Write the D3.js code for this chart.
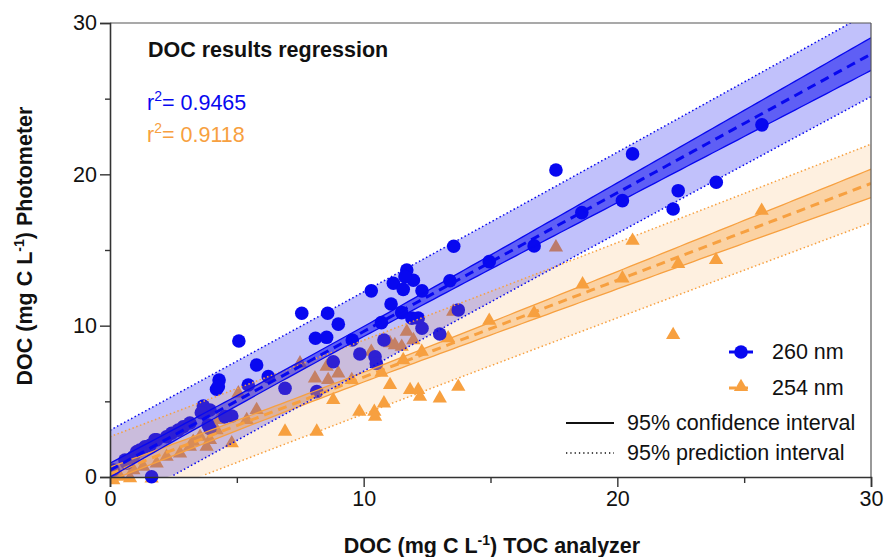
<!DOCTYPE html>
<html><head><meta charset="utf-8">
<script src="https://cdn.jsdelivr.net/npm/d3@7"></script>
<style>body{margin:0;background:#fff}svg{font-family:"Liberation Sans",Arial,sans-serif}</style>
</head><body><svg id="c" width="884" height="557"></svg>
<script>
// ---- data ----
const blue260 = [
[17.58,20.29],[20.6,21.35],[25.7,23.27],[18.6,17.47],[20.2,18.26],[22.4,18.92],[22.2,17.71],[23.9,19.48],[16.72,15.27],[14.95,14.23],
[13.55,15.25],[13.4,12.97],[13.73,11.04],[13.0,9.45],[12.3,12.3],[11.96,13.0],[11.7,13.68],[11.63,13.24],[11.17,12.8],[11.56,12.4],
[10.3,12.3],[11.08,11.43],[11.5,10.86],[11.9,10.5],[12.15,10.5],[12.3,9.83],[10.7,10.2],[10.8,9.05],[9.85,8.13],[10.45,7.95],
[10.5,7.5],[9.55,9.05],[9.0,10.1],[8.58,10.82],[7.56,10.82],[8.1,9.17],[8.54,9.23],[8.8,7.62],[6.9,5.86],[8.15,5.64],
[5.08,8.99],[5.78,7.4],[6.24,6.63],[4.3,6.41],[4.2,5.8],[5.45,6.08],[4.27,5.97],[3.68,4.69],[3.94,4.43],[4.8,4.03],
[4.53,3.99],[3.6,4.25],[2.89,3.32],[3.15,3.57],[3.87,3.44],[2.43,2.89],[2.69,3.1],[2.23,2.66],[3.94,3.2],[1.84,2.45],
[1.77,2.45],[1.38,2.0],[1.58,2.1],[1.05,1.67],[1.18,1.78],[0.92,1.34],[0.59,1.12],[0.66,0.92],[0.13,0.46],[1.64,0.02]
];
const orange254 = [
[25.69,17.6],[20.6,15.62],[23.89,14.34],[22.4,14.08],[18.63,12.73],[20.2,13.13],[16.72,10.82],[14.95,10.33],[22.2,9.39],[17.58,15.18],
[13.53,10.93],[13.33,9.17],[11.7,9.6],[11.23,8.72],[11.96,9.05],[11.04,8.84],[11.5,8.61],[12.29,8.28],[10.3,8.28],[11.56,7.73],
[10.7,6.89],[8.54,7.29],[9.0,6.85],[8.08,6.52],[8.6,6.41],[7.49,7.51],[9.53,6.41],[11.04,6.08],[11.83,5.75],[12.15,5.75],
[12.22,5.31],[13.0,5.2],[13.73,5.97],[10.8,4.87],[8.8,5.09],[9.83,4.32],[10.42,4.32],[10.45,3.99],[6.9,3.0],[8.15,3.0],
[5.06,5.53],[5.78,4.43],[5.39,3.77],[4.8,2.23],[3.94,2.45],[4.2,3.1],[3.55,2.66],[3.81,2.0],[3.15,2.0],[2.76,1.56],
[2.23,1.34],[1.84,0.9],[1.31,0.68],[0.92,0.46],[0.39,0.02],[0.13,-0.2],[0.79,-0.07],[1.64,-0.09],[4.27,3.77],[3.28,2.33]
];
// fitted regressions (slope, intercept) and interval parameters
const fit260 = {slope:0.9165, intercept:0.45, ts:2.6, n:70, xm:7.5, sxx:3200};
const fit254 = {slope:0.64, intercept:0.2, ts:2.42, n:60, xm:8.0, sxx:3600};
const r2Labels = ["0.9465","0.9118"];
const seriesNames = ["260 nm","254 nm"];
const xTicks = [0,10,20,30], yTicks = [0,10,20,30], minorTicks = [5,15,25];

const BLUE = "#0808f0", ORANGE = "#f7a040";
const svg = d3.select("#c");
const L=110, R=871, T=23, B=477;
const x = d3.scaleLinear().domain([0,30]).range([L,R]);
const y = d3.scaleLinear().domain([0,30]).range([B,T]);

svg.append("clipPath").attr("id","clip").append("rect").attr("x",L).attr("y",T).attr("width",R-L).attr("height",B-T+9);
const plot = svg.append("g").attr("clip-path","url(#clip)");

function bands(f){
  const xs = d3.range(0,30.0001,0.25);
  return xs.map(v=>{
    const c = f.intercept + f.slope*v;
    const d2 = (v-f.xm)*(v-f.xm)/f.sxx;
    const hc = f.ts*Math.sqrt(1/f.n + d2);
    const hp = f.ts*Math.sqrt(1 + 1/f.n + d2);
    return {x:v, c, cl:c-hc, cu:c+hc, pl:Math.max(0,c-hp), pu:c+hp};
  });
}
const b260 = bands(fit260), b254 = bands(fit254);
const area = (lo,hi)=>d3.area().x(d=>x(d.x)).y0(d=>y(d[lo])).y1(d=>y(d[hi]));
const line = k=>d3.line().x(d=>x(d.x)).y(d=>y(d[k]));

const tri = d3.symbol().type(d3.symbolTriangle).size(88);

// orange triangles
plot.append("g").selectAll("path").data(orange254).join("path")
  .attr("d",tri).attr("transform",d=>`translate(${x(d[0])},${y(d[1])})`).attr("fill",ORANGE);
// blue bands
plot.append("path").datum(b260).attr("d",area("pl","pu")).attr("fill",BLUE).attr("fill-opacity",0.25);
plot.append("path").datum(b260).attr("d",area("cl","cu")).attr("fill",BLUE).attr("fill-opacity",0.53);
// blue circles
plot.append("g").selectAll("circle").data(blue260).join("circle")
  .attr("cx",d=>x(d[0])).attr("cy",d=>y(d[1])).attr("r",6.8).attr("fill",BLUE);
// orange bands
plot.append("path").datum(b254).attr("d",area("pl","pu")).attr("fill",ORANGE).attr("fill-opacity",0.16);
plot.append("path").datum(b254).attr("d",area("cl","cu")).attr("fill",ORANGE).attr("fill-opacity",0.38);

function drawLines(b,col){
  ["pl","pu"].forEach(k=>plot.append("path").datum(b.filter(d=>d[k]>0)).attr("d",line(k)).attr("fill","none")
    .attr("stroke",col).attr("stroke-width",1.5).attr("stroke-dasharray","1.5,2.5"));
  ["cl","cu"].forEach(k=>plot.append("path").datum(b).attr("d",line(k)).attr("fill","none")
    .attr("stroke",col).attr("stroke-width",1.3));
  plot.append("path").datum(b).attr("d",line("c")).attr("fill","none")
    .attr("stroke",col).attr("stroke-width",3).attr("stroke-dasharray","9,6");
}
drawLines(b254,ORANGE);
drawLines(b260,BLUE);

// frame
svg.append("line").attr("x1",L).attr("x2",R).attr("y1",T).attr("y2",T).attr("stroke","#555").attr("stroke-width",1.2);
svg.append("line").attr("x1",R).attr("x2",R).attr("y1",T).attr("y2",B).attr("stroke","#555").attr("stroke-width",1.2);

// axes
const xAx = svg.append("g").attr("transform",`translate(0,${B})`)
  .call(d3.axisBottom(x).tickValues(xTicks).tickSize(10).tickPadding(4).tickFormat(d3.format("d")));
const xMin = svg.append("g").attr("transform",`translate(0,${B})`)
  .call(d3.axisBottom(x).tickValues(minorTicks).tickSize(6).tickFormat(""));
const yAx = svg.append("g").attr("transform",`translate(${L},0)`)
  .call(d3.axisLeft(y).tickValues(yTicks).tickSize(10).tickPadding(3).tickFormat(d3.format("d")));
const yMin = svg.append("g").attr("transform",`translate(${L},0)`)
  .call(d3.axisLeft(y).tickValues(minorTicks).tickSize(5).tickFormat(""));
[xAx,xMin,yAx,yMin].forEach(g=>{
  g.select(".domain").attr("stroke","#333").attr("stroke-width",1.6);
  g.selectAll(".tick line").attr("stroke","#333").attr("stroke-width",1.4);
  g.selectAll(".tick text").attr("font-size",21.5).attr("fill","#111").attr("font-family","Liberation Sans, Arial, sans-serif");
});
xMin.select(".domain").remove(); yMin.select(".domain").remove();

// axis titles
const xt = svg.append("text").attr("x",492).attr("y",553).attr("text-anchor","middle")
  .attr("font-size",21.5).attr("font-weight","bold").attr("fill","#111");
xt.append("tspan").text("DOC (mg C L");
xt.append("tspan").text("-1").attr("font-size",14).attr("dy",-8);
xt.append("tspan").text(") TOC analyzer").attr("dy",8);

const yt = svg.append("text").attr("transform","translate(32,246) rotate(-90)").attr("text-anchor","middle")
  .attr("font-size",21.5).attr("font-weight","bold").attr("fill","#111");
yt.append("tspan").text("DOC (mg C L");
yt.append("tspan").text("-1").attr("font-size",14).attr("dy",-8);
yt.append("tspan").text(") Photometer").attr("dy",8);

// title and r2
svg.append("text").attr("x",148).attr("y",57).attr("font-size",21.5).attr("font-weight","bold").attr("fill","#111")
  .text("DOC results regression");
[[BLUE,110],[ORANGE,142]].forEach(([col,yy],i)=>{
  const t = svg.append("text").attr("x",147).attr("y",yy).attr("font-size",21.5).attr("fill",col);
  t.append("tspan").text("r");
  t.append("tspan").text("2").attr("font-size",14).attr("dy",-9);
  t.append("tspan").text("= "+r2Labels[i]).attr("dy",9);
});

// legend
const lg = svg.append("g");
lg.append("line").attr("x1",729).attr("x2",753).attr("y1",352).attr("y2",352).attr("stroke",BLUE).attr("stroke-width",3);
lg.append("circle").attr("cx",741).attr("cy",352).attr("r",6.8).attr("fill",BLUE);
lg.append("text").attr("x",772).attr("y",359).attr("font-size",21.5).attr("fill","#111").text(seriesNames[0]);
lg.append("line").attr("x1",729).attr("x2",753).attr("y1",388).attr("y2",388).attr("stroke",ORANGE).attr("stroke-width",3).attr("stroke-dasharray","7,5");
lg.append("path").attr("d",d3.symbol().type(d3.symbolTriangle).size(88)).attr("transform","translate(741,387)").attr("fill",ORANGE);
lg.append("text").attr("x",772).attr("y",395).attr("font-size",21.5).attr("fill","#111").text(seriesNames[1]);
lg.append("line").attr("x1",566).attr("x2",614).attr("y1",423).attr("y2",423).attr("stroke","#111").attr("stroke-width",1.8);
lg.append("text").attr("x",627).attr("y",430).attr("font-size",21.5).attr("fill","#111").text("95% confidence interval");
lg.append("line").attr("x1",566).attr("x2",614).attr("y1",453).attr("y2",453).attr("stroke","#111").attr("stroke-width",1.3).attr("stroke-dasharray","1.3,3");
lg.append("text").attr("x",627).attr("y",460).attr("font-size",21.5).attr("fill","#111").text("95% prediction interval");
</script></body></html>
